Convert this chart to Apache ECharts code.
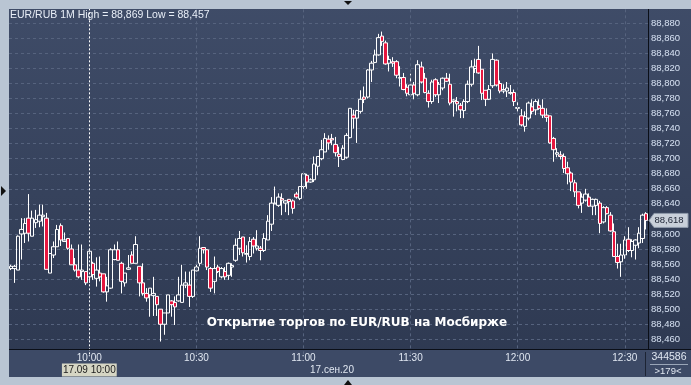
<!DOCTYPE html>
<html><head><meta charset="utf-8">
<script src="https://cdn.jsdelivr.net/npm/echarts@6/dist/echarts.min.js"></script>
<style>html,body{margin:0;padding:0;background:#b9c5d3;}#c{width:691px;height:385px;}</style>
</head><body><div id="c"></div>
<script>
const times = ['9:38','9:39','9:40','9:41','9:42','9:43','9:44','9:45','9:46','9:47','9:48','9:49','9:50','9:51','9:52','9:53','9:54','9:55','9:56','9:57','9:58','9:59',
'10:00','10:01','10:02','10:03','10:04','10:05','10:06','10:07','10:08','10:09','10:10','10:11','10:12','10:13','10:14','10:15','10:16','10:17','10:18','10:19','10:20','10:21','10:22','10:23','10:24','10:25','10:26','10:27','10:28','10:29',
'10:30','10:31','10:32','10:33','10:34','10:35','10:36','10:37','10:38','10:39','10:40','10:41','10:42','10:43','10:44','10:45','10:46','10:47','10:48','10:49','10:50','10:51','10:52','10:53','10:54','10:55','10:56','10:57','10:58','10:59',
'11:00','11:01','11:02','11:03','11:04','11:05','11:06','11:07','11:08','11:09','11:10','11:11','11:12','11:13','11:14','11:15','11:16','11:17','11:18','11:19','11:20','11:21','11:22','11:23','11:24','11:25','11:26','11:27','11:28','11:29',
'11:30','11:31','11:32','11:33','11:34','11:35','11:36','11:37','11:38','11:39','11:40','11:41','11:42','11:43','11:44','11:45','11:46','11:47','11:48','11:49','11:50','11:51','11:52','11:53','11:54','11:55','11:56','11:57','11:58','11:59',
'12:00','12:01','12:02','12:03','12:04','12:05','12:06','12:07','12:08','12:09','12:10','12:11','12:12','12:13','12:14','12:15','12:16','12:17','12:18','12:19','12:20','12:21','12:22','12:23','12:24','12:25','12:26','12:27','12:28','12:29',
'12:30','12:31','12:32','12:33','12:34','12:35','12:36'];

const opens = [88.554,88.554,88.552,88.600,88.601,88.621,88.597,88.615,88.617,88.623,88.621,88.548,88.572,88.583,88.611,88.590,88.594,88.580,88.559,88.552,88.550,88.550,
88.543,88.561,88.541,88.548,88.547,88.523,88.528,88.566,88.579,88.561,88.535,88.553,88.572,88.561,88.557,88.535,88.521,88.519,88.518,88.517,88.500,88.480,88.495,88.511,88.509,88.511,88.509,88.532,88.532,88.517,
88.551,88.561,88.582,88.579,88.554,88.537,88.556,88.543,88.550,88.545,88.556,88.565,88.581,88.596,88.573,88.570,88.593,88.581,88.581,88.578,88.592,88.613,88.640,88.638,88.647,88.641,88.646,88.644,
88.653,88.647,88.663,88.678,88.669,88.672,88.690,88.700,88.709,88.726,88.727,88.719,88.706,88.699,88.702,88.728,88.758,88.754,88.763,88.782,88.782,88.818,88.828,88.838,88.863,88.854,88.827,88.829,88.829,88.807,
88.808,88.795,88.785,88.798,88.785,88.822,88.807,88.787,88.776,88.805,88.785,88.794,88.807,88.799,88.776,88.776,88.771,88.764,88.776,88.799,88.820,88.832,88.819,88.791,88.779,88.797,88.831,88.800,88.790,88.790,
88.787,88.788,88.767,88.757,88.743,88.754,88.769,88.765,88.771,88.767,88.758,88.757,88.727,88.706,88.705,88.703,88.688,88.681,88.668,88.656,88.641,88.645,88.649,88.637,88.638,88.641,88.616,88.635,88.625,88.603,
88.570,88.563,88.572,88.593,88.578,88.585,88.588,88.594,88.627];
const closes = [88.557,88.557,88.597,88.606,88.614,88.601,88.621,88.619,88.625,88.625,88.553,88.574,88.583,88.606,88.592,88.592,88.581,88.559,88.552,88.543,88.552,88.535,
88.577,88.546,88.552,88.543,88.523,88.531,88.579,88.579,88.565,88.537,88.548,88.555,88.561,88.586,88.535,88.521,88.515,88.528,88.521,88.506,88.480,88.495,88.519,88.506,88.503,88.519,88.532,88.535,88.517,88.552,
88.556,88.581,88.579,88.556,88.528,88.554,88.550,88.554,88.543,88.561,88.558,88.585,88.594,88.575,88.574,88.590,88.584,88.584,88.578,88.594,88.617,88.641,88.641,88.649,88.645,88.644,88.643,88.634,
88.649,88.663,88.680,88.669,88.672,88.693,88.703,88.712,88.727,88.721,88.725,88.708,88.703,88.714,88.731,88.767,88.754,88.764,88.779,88.779,88.818,88.827,88.838,88.861,88.856,88.826,88.832,88.827,88.811,88.808,
88.792,88.787,88.798,88.787,88.825,88.802,88.788,88.776,88.802,88.785,88.799,88.807,88.803,88.774,88.778,88.773,88.765,88.776,88.799,88.822,88.823,88.814,88.787,88.779,88.792,88.832,88.798,88.790,88.792,88.794,
88.788,88.776,88.768,88.745,88.756,88.774,88.763,88.776,88.767,88.758,88.755,88.721,88.712,88.708,88.703,88.687,88.680,88.669,88.656,88.638,88.649,88.653,88.637,88.646,88.646,88.614,88.635,88.627,88.604,88.570,
88.562,88.572,88.592,88.578,88.590,88.592,88.601,88.625,88.618];
const lows = [88.552,88.535,88.552,88.566,88.588,88.590,88.597,88.608,88.609,88.610,88.553,88.548,88.568,88.583,88.584,88.590,88.579,88.559,88.550,88.541,88.539,88.532,
88.535,88.539,88.530,88.537,88.522,88.510,88.527,88.565,88.565,88.521,88.530,88.552,88.561,88.561,88.517,88.518,88.510,88.490,88.491,88.491,88.457,88.466,88.495,88.490,88.479,88.510,88.509,88.528,88.503,88.515,
88.550,88.557,88.574,88.552,88.523,88.521,88.548,88.541,88.539,88.539,88.543,88.563,88.572,88.570,88.562,88.565,88.574,88.578,88.565,88.576,88.592,88.604,88.640,88.636,88.625,88.629,88.625,88.627,
88.647,88.645,88.660,88.660,88.668,88.669,88.678,88.698,88.709,88.712,88.718,88.703,88.689,88.698,88.700,88.727,88.740,88.721,88.760,88.774,88.780,88.802,88.827,88.837,88.850,88.825,88.816,88.822,88.807,88.796,
88.791,88.783,88.783,88.779,88.783,88.800,88.787,88.768,88.773,88.782,88.774,88.791,88.802,88.771,88.756,88.763,88.754,88.754,88.774,88.796,88.814,88.813,88.778,88.770,88.778,88.794,88.796,88.787,88.787,88.782,
88.785,88.770,88.761,88.743,88.736,88.751,88.759,88.758,88.765,88.754,88.749,88.720,88.696,88.702,88.699,88.681,88.666,88.657,88.649,88.634,88.628,88.643,88.636,88.625,88.625,88.601,88.614,88.626,88.603,88.570,
88.554,88.543,88.567,88.576,88.569,88.566,88.581,88.588,88.606];
const highs = [88.559,88.559,88.598,88.621,88.621,88.653,88.631,88.632,88.639,88.639,88.628,88.574,88.590,88.612,88.614,88.602,88.594,88.586,88.568,88.586,88.586,88.550,
88.579,88.563,88.569,88.570,88.547,88.543,88.581,88.586,88.590,88.563,88.548,88.572,88.577,88.597,88.557,88.561,88.528,88.528,88.543,88.517,88.500,88.495,88.519,88.512,88.517,88.543,88.559,88.550,88.550,88.552,
88.559,88.597,88.582,88.580,88.556,88.570,88.559,88.556,88.556,88.562,88.561,88.594,88.604,88.596,88.585,88.596,88.596,88.605,88.584,88.601,88.625,88.649,88.663,88.654,88.654,88.645,88.646,88.646,
88.656,88.663,88.680,88.680,88.674,88.703,88.703,88.725,88.734,88.731,88.733,88.729,88.716,88.718,88.734,88.767,88.765,88.765,88.791,88.796,88.819,88.830,88.845,88.866,88.869,88.857,88.837,88.835,88.831,88.823,
88.814,88.799,88.813,88.802,88.831,88.829,88.814,88.791,88.805,88.807,88.802,88.808,88.814,88.813,88.779,88.782,88.774,88.779,88.804,88.831,88.833,88.850,88.819,88.791,88.798,88.840,88.832,88.804,88.799,88.802,
88.798,88.792,88.778,88.766,88.763,88.776,88.779,88.779,88.779,88.779,88.767,88.757,88.729,88.714,88.710,88.707,88.696,88.683,88.672,88.656,88.654,88.660,88.654,88.647,88.647,88.644,88.637,88.637,88.629,88.614,
88.587,88.587,88.597,88.609,88.593,88.593,88.609,88.627,88.629];

const yTickMin = 88.44, yTickMax = 88.90, yTickStep = 0.02;
const xLabelTimes = ['10:00','10:30','11:00','11:30','12:00','12:30'];
const xGridTimes = ['10:30','11:00','11:30','12:00','12:30'];
const crosshairTime = '10:00';
const titleText = 'EUR/RUB 1M High = 88,869 Low = 88,457';
const noteText = 'Открытие торгов по EUR/RUB на Мосбирже';
const dateText = '17.сен.20';
const crossDateText = '17.09 10:00';
const volumeText = '344586';

const chart = echarts.init(document.getElementById('c'), null, {renderer:'canvas'});
const candles = times.map((t, i) => [opens[i], closes[i], lows[i], highs[i]]);
const fmt = v => v.toFixed(3).replace('.', ',');
const FONT = '"Liberation Sans", Arial, sans-serif';
const frameColor = '#b9c5d3';
const panelColor = '#3d4a66';

function txt(text, x, y, size, color, align, extra) {
  return Object.assign({type:'text', z:20, silent:true, style:{text:text, x:x, y:y, fill:color,
    font: size + 'px ' + FONT, align: align, textAlign: align, verticalAlign:'middle', textVerticalAlign:'middle'}}, extra || {});
}

const option = {
  animation: false,
  backgroundColor: {type:'linear', x:0, y:0, x2:0, y2:1, colorStops:[{offset:0, color:'#3f4c68'}, {offset:1, color:'#2d3850'}]},
  grid: [
    {left:9, right:43, top:8.27, height:346.06},
    {left:9, right:43, top:349, height:28, show:true, backgroundColor:panelColor, borderWidth:0, z:5}
  ],
  xAxis: [
    {type:'category', data:times, gridIndex:0, boundaryGap:true, axisLine:{show:false}, axisTick:{show:false}, axisLabel:{show:false}, splitLine:{show:false}},
    {type:'category', data:times, gridIndex:1, position:'top', boundaryGap:true, z:6,
     axisLine:{show:false}, axisTick:{show:false}, splitLine:{show:false},
     axisLabel:{inside:true, margin:4, color:'#e0e7f1', fontSize:10, fontFamily:FONT,
       interval:(i, v) => xLabelTimes.indexOf(v) >= 0}}
  ],
  yAxis: [
    {type:'value', gridIndex:0, position:'right', min:yTickMin, max:yTickMax, interval:yTickStep,
     axisLine:{show:true, lineStyle:{color:'#0b0f18', width:1}}, axisTick:{show:false},
     axisLabel:{color:'#d6e1f2', fontSize:9.5, fontFamily:FONT, margin:3, formatter:fmt, showMinLabel:false, showMaxLabel:false},
     splitLine:{show:true, lineStyle:{color:'#56637e', type:[3,3], width:1}}},
    {type:'value', gridIndex:1, show:false}
  ],
  series: [
    {type:'line', data:[], xAxisIndex:0, yAxisIndex:0, z:1, silent:true,
     markLine:{silent:true, symbol:['none','none'], label:{show:false}, animation:false,
       lineStyle:{color:'#56637e', type:[3,3], width:1},
       data: xGridTimes.map(t => ({xAxis:t}))}},
    {type:'candlestick', data:candles, xAxisIndex:0, yAxisIndex:0, z:2, barWidth:4,
     itemStyle:{color:'rgba(0,0,0,0)', color0:'#e5173f', borderColor:'#ffffff', borderColor0:'#ffffff', borderWidth:1}},
    {type:'line', data:[], xAxisIndex:0, yAxisIndex:0, z:3, silent:true,
     markLine:{silent:true, symbol:['none','none'], label:{show:false}, animation:false,
       lineStyle:{color:'#ffffff', type:[2,2], width:1},
       data:[{xAxis:crosshairTime}]}}
  ]
};
chart.setOption(option);

const lastClose = closes[closes.length - 1];
const py = chart.convertToPixel({yAxisIndex:0}, lastClose);
const cx = chart.convertToPixel({xAxisIndex:0}, crosshairTime);

chart.setOption({graphic:[
  {type:'rect', z:10, silent:true, shape:{x:0, y:0, width:691, height:9}, style:{fill:frameColor}},
  {type:'rect', z:10, silent:true, shape:{x:0, y:0, width:9, height:385}, style:{fill:frameColor}},
  {type:'rect', z:10, silent:true, shape:{x:0, y:377, width:691, height:8}, style:{fill:frameColor}},
  {type:'rect', z:10, silent:true, shape:{x:648, y:349, width:43, height:28}, style:{fill:panelColor}},
  {type:'line', z:11, silent:true, shape:{x1:9, y1:349.5, x2:691, y2:349.5}, style:{stroke:'#0b0f18', lineWidth:1}},
  {type:'line', z:11, silent:true, shape:{x1:645.5, y1:352, x2:645.5, y2:376}, style:{stroke:'#1c2333', lineWidth:1}},
  {type:'line', z:11, silent:true, shape:{x1:650, y1:364.5, x2:688, y2:364.5}, style:{stroke:'#9aa6b8', lineWidth:1}},
  txt(volumeText, 669, 357, 10.5, '#e0e7f1', 'center'),
  txt('>' + times.length + '<', 668, 371, 9.5, '#e0e7f1', 'center'),
  txt(dateText, 332, 370, 10, '#e0e7f1', 'center'),
  txt(crossDateText, cx, 370, 10, '#1a1a1a', 'center', {style:{text:crossDateText, x:cx, y:370, fill:'#1a1a1a', font:'10px ' + FONT, align:'center', textAlign:'center', verticalAlign:'middle', textVerticalAlign:'middle', backgroundColor:'#d6d6c4', padding:[2,1,1,1]}}),
  txt(titleText, 10, 15, 10.5, '#e8eef7', 'left'),
  {type:'text', z:20, silent:true, style:{text:noteText, x:357, y:323, fill:'#ffffff', font:'bold 12px "DejaVu Sans", sans-serif', align:'center', textAlign:'center', verticalAlign:'middle', textVerticalAlign:'middle'}},
  {type:'polygon', z:20, silent:true, shape:{points:[[649, py], [654, py-7], [688, py-7], [688, py+7], [654, py+7]]}, style:{fill:'#c9d0da', stroke:'#8f9aab', lineWidth:1}},
  txt(fmt(lastClose), 669, py, 9.5, '#1b2233', 'center'),
  {type:'polygon', z:20, silent:true, shape:{points:[[344, 1], [352, 1], [348, 5]]}, style:{fill:'#111'}},
  {type:'polygon', z:20, silent:true, shape:{points:[[1, 186], [1, 196], [6, 191]]}, style:{fill:'#111'}},
  {type:'polygon', z:20, silent:true, shape:{points:[[344, 385], [352, 385], [348, 380]]}, style:{fill:'#111'}}
]});
</script></body></html>
